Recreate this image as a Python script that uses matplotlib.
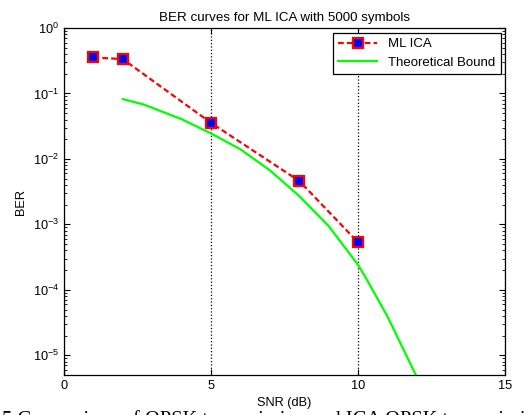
import numpy as np
import matplotlib
matplotlib.use("Agg")
import matplotlib.pyplot as plt
import matplotlib.ticker as ticker

# data
snr_ica = [1, 2, 5, 8, 10]
ber_ica = [0.355, 0.335, 0.0355, 0.0046, 0.00053]

snr_bound = [2, 2.7, 3, 3.8, 4, 5, 6, 7, 8, 9, 10, 10.3, 11, 12]
ber_bound = [0.082, 0.068, 0.0604, 0.0438, 0.0405, 0.0245, 0.014, 0.0067, 0.0027,
             0.00094, 0.00024, 0.000142, 3.9e-05, 4.6e-06]

plt.rcParams['font.family'] = ['Liberation Sans', 'DejaVu Sans']

fig = plt.figure(figsize=(5.29, 4.15), dpi=100)
ax = fig.add_axes([0.121, 0.0964, 0.834, 0.8361])

ax.semilogy(snr_ica, ber_ica, linestyle='--', dashes=(2.6, 1.4), marker='s',
            color='red', linewidth=1.6, markersize=7, markerfacecolor='blue',
            markeredgecolor='red', markeredgewidth=1.6, label='ML ICA', zorder=3)
ax.semilogy(snr_bound, ber_bound, '-', color=(0, 1, 0), linewidth=1.6,
            label='Theoretical Bound', zorder=2)

ax.set_xlim(0, 15)
ax.set_ylim(5e-6, 1)
ax.set_xticks([0, 5, 10, 15])
ax.yaxis.set_major_locator(ticker.LogLocator(base=10, numticks=10))
ax.yaxis.set_minor_locator(ticker.LogLocator(base=10, subs=np.arange(2, 10), numticks=20))
ax.yaxis.set_minor_formatter(ticker.NullFormatter())
ax.tick_params(which='both', direction='in', top=True, right=True, labelsize=9.2)
ax.tick_params(which='major', length=4)
ax.tick_params(which='minor', length=2.5)
ax.xaxis.grid(True, linestyle=':', color='black', linewidth=0.9)
for s in ax.spines.values():
    s.set_linewidth(0.9)

ax.set_title('BER curves for ML ICA with 5000 symbols', fontsize=9.6, pad=5)
ax.set_xlabel('SNR (dB)', fontsize=9.2, labelpad=4)
ax.set_ylabel('BER', fontsize=9.2)

leg = ax.legend(loc='upper right', fontsize=9.5, fancybox=False, framealpha=1,
                edgecolor='black', borderaxespad=0.35, handlelength=3.0)
leg.get_frame().set_linewidth(0.9)

# caption of the scanned page, cut off by the bottom edge
fig.text(0.004, -0.024, '5 Comparison of QPSK transmission and ICA QPSK transmission',
         fontsize=14.8, family=['Liberation Serif'], va='baseline', ha='left')

fig.savefig('out.png', dpi=100)
